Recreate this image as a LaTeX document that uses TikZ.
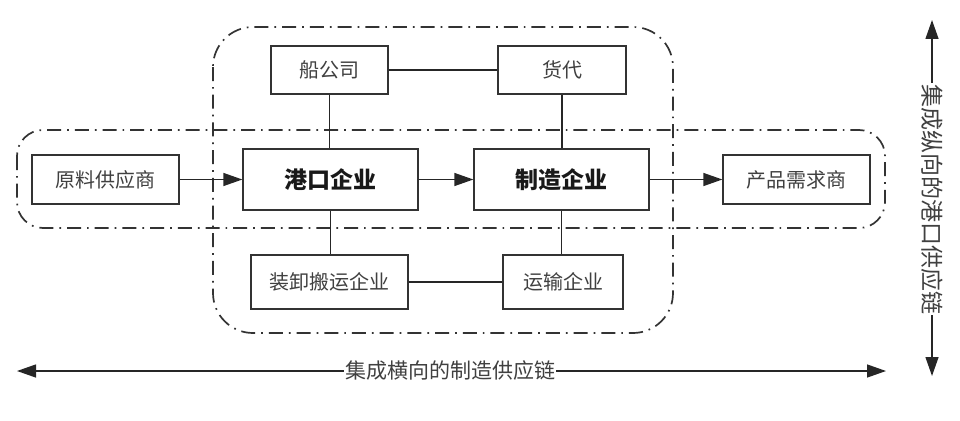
\documentclass[tikz,border=0pt]{standalone}
\usepackage{fontspec}
\setmainfont{Noto Sans CJK SC}
\usetikzlibrary{arrows.meta}
\tikzset{
  boxn/.style={draw=black!80, line width=1.3pt, fill=white, inner sep=0pt, font=\fontsize{20}{22}\selectfont, text=black!75},
  boxb/.style={boxn, font=\fontsize{23}{25}\selectfont\bfseries, text=black!90},
  conn/.style={line width=1.3pt, draw=black!85},
  arr/.style={conn, -{Triangle[length=19pt,width=13pt]}},
  dashdot/.style={line width=1.7pt, draw=black!80, dash pattern=on 14pt off 6pt on 1.7pt off 6pt},
  lbl/.style={fill=white, inner sep=1pt, font=\fontsize{21}{23}\selectfont, text=black!75}
}
\begin{document}
\begin{tikzpicture}[x=1pt,y=-1pt]
\useasboundingbox (0,0) rectangle (960,420);
% dash-dot groups
\draw[dashdot, rounded corners=40pt] (213,27) rectangle (673,333);
\draw[dashdot, rounded corners=26pt] (17,130) rectangle (885,228);
% nodes
\node[boxn, minimum width=147pt, minimum height=49pt] (yl) at (105.5,179.5) {原料供应商};
\node[boxb, minimum width=175pt, minimum height=61pt] (gk) at (330.5,179.5) {港口企业};
\node[boxb, minimum width=175pt, minimum height=61pt] (zz) at (561.5,179.5) {制造企业};
\node[boxn, minimum width=147pt, minimum height=49pt] (cp) at (796.5,179.5) {产品需求商};
\node[boxn, minimum width=117pt, minimum height=48pt] (cg) at (329.5,70) {船公司};
\node[boxn, minimum width=128pt, minimum height=48pt] (hd) at (562,70) {货代};
\node[boxn, minimum width=157pt, minimum height=54pt] (zx) at (329.5,282) {装卸搬运企业};
\node[boxn, minimum width=120pt, minimum height=54pt] (ys) at (563,282) {运输企业};
% connectors
\draw[arr] (yl) -- (gk);
\draw[arr] (gk) -- (zz);
\draw[arr] (zz) -- (cp);
\draw[conn] (cg) -- (hd);
\draw[conn] (zx) -- (ys);
\draw[conn] (cg.south) -- (cg.south |- gk.north);
\draw[conn] (gk.south) -- (gk.south |- zx.north);
\draw[conn] (hd.south) -- (hd.south |- zz.north);
\draw[conn] (zz.south) -- (zz.south |- ys.north);
% horizontal chain arrow
\coordinate (hl) at (17,371);
\coordinate (hr) at (886,371);
\node[lbl] (ht) at (450,371) {集成横向的制造供应链};
\draw[conn, {Triangle[length=19pt,width=13pt]}-] (hl) -- (ht.west);
\draw[conn, -{Triangle[length=19pt,width=13pt]}] (ht.east) -- (hr);
% vertical chain arrow
\coordinate (vt) at (932,20);
\coordinate (vb) at (932,376);
\node[lbl, rotate=-90, font=\fontsize{23}{25}\selectfont] (vtx) at (932,199) {集成纵向的港口供应链};
\draw[conn, {Triangle[length=19pt,width=13pt]}-] (vt) -- (vtx.west);
\draw[conn, -{Triangle[length=19pt,width=13pt]}] (vtx.east) -- (vb);
\end{tikzpicture}
\end{document}
